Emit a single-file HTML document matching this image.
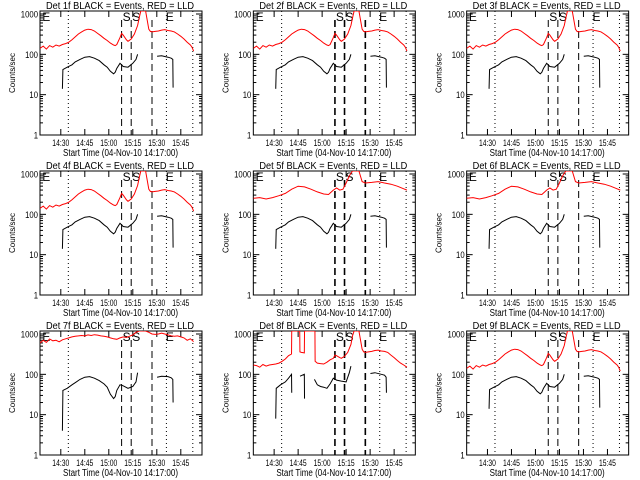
<!DOCTYPE html>
<html><head><meta charset="utf-8"><style>
body{margin:0;background:#fff}
svg{display:block}
text{font-family:"Liberation Sans",sans-serif;fill:#000}
</style></head><body>
<svg id="chart" width="640" height="480" viewBox="0 0 640 480" xmlns="http://www.w3.org/2000/svg"></svg>
<script>
// Time in minutes after 14:17:00
const detNames = ["1f","2f","3f","4f","5f","6f","7f","8f","9f"];
const xTickLabels = ["14:30","14:45","15:00","15:15","15:30","15:45"];
const xTickMinutes = [13,28,43,58,73,88];
const yTickLabels = ["1000","100","10","1"];
const yTickValues = [1000,100,10,1];
const dottedTimes = [17.7,79,95.5];
const dashedTimes = [51,57,70];

// Red (LLD) series
const redT_base = [0,2,4,6,8,10,12,14,16,18,20,22,24,26,28,30,32,34,36,38,40,42,44,46,47,48,50,51,52,54,55,57,59,61,62,63,64,66,68,69,70,72,74,76,78,80,82,84,86,88,90,92,94,95,96];
const redV_base = [140,160,135,165,150,170,160,175,185,200,230,270,320,360,400,420,410,380,330,290,250,220,190,170,165,175,260,330,300,230,210,240,320,520,800,1300,1300,1300,420,370,360,370,380,400,410,390,380,360,320,280,240,200,170,150,120];
const redT_hi = [0,2,4,6,8,10,12,14,16,18,20,22,24,26,28,30,32,34,36,38,40,42,44,46,48,50,52,54,56,58,60,62,64,66,68,70,72,74,76,78,80,82,84,86,88,90,92,94,96];
const redV_hi = [600,700,620,750,680,700,640,720,760,800,850,880,900,920,900,950,920,960,940,900,880,850,800,760,740,800,850,820,880,950,1100,1200,1200,1200,1100,1000,980,1000,1050,1000,950,900,880,900,850,800,700,760,650];
const redT_8 = [0,2,4,6,8,10,12,14,16,18,20,22,23.9,24,29,29.1,30,31.9,32,38.5,38.6,40,42,44,46,48,50,51,52,54,55,57,59,61,62,63,64,66,68,69,70,72,74,76,78,80,82,84,86,88,90,92,94,96];
const redV_8 = [170,165,150,175,160,170,175,180,190,210,240,290,320,1300,1300,360,350,340,1300,1300,210,190,185,180,200,230,250,300,290,260,250,280,350,550,900,1300,1300,1300,420,360,350,360,370,390,400,380,370,350,300,260,220,190,170,150];
const redT_5 = [0,4,8,12,16,20,24,28,32,36,40,44,47,50,52,54,56,58,60,62,64,66,68,70,74,78,82,86,90,94,96];
const redV_5 = [250,260,240,260,290,330,420,500,480,420,360,320,310,400,450,400,420,600,900,1300,1300,1300,650,600,620,650,600,560,500,430,400];

// Black (Events) series; null = gap
const blkT_base = [14,14.3,17,20,22,25,28,31,34,37,40,42,44,46,47,48,50,52,55,58,60,61,62,73,73.2,76,80,82,83,83.2];
const blkV_base = [14,42,48,55,65,75,85,88,80,70,55,48,38,33,36,45,60,50,48,60,75,100,null,null,90,92,85,80,75,15];
const blkT_7 = [14,14.3,17,20,22,25,28,31,34,37,40,42,44,46,47,48,50,52,55,58,60,61,62,73,73.2,76,80,82,83,83.2];
const blkV_7 = [4,40,45,55,62,75,85,88,80,70,58,48,32,25,28,40,55,52,45,50,65,110,null,null,85,90,88,82,75,20];
const blkT_8 = [14,14.3,17,20,22,23.9,24,29,29.2,31.9,32,38,38.2,40,42,44,46,48,50,52,55,58,60,61,62,73,73.2,76,80,82,83,83.2];
const blkV_8 = [8,45,55,65,80,100,35,null,90,100,25,null,75,55,50,48,45,58,80,72,68,65,110,160,null,null,105,110,100,95,85,35];

const panelRed = [[redT_base,redV_base],[redT_base,redV_base],[redT_base,redV_base],[redT_base,redV_base],[redT_5,redV_5],[redT_5,redV_5],[redT_hi,redV_hi],[redT_8,redV_8],[redT_base,redV_base]];
const panelBlk = [[blkT_base,blkV_base],[blkT_base,blkV_base],[blkT_base,blkV_base],[blkT_base,blkV_base],[blkT_base,blkV_base],[blkT_base,blkV_base],[blkT_7,blkV_7],[blkT_8,blkV_8],[blkT_base,blkV_base]];

const svg = document.getElementById('chart');
const NS = 'http://www.w3.org/2000/svg';
function mk(tag, attrs, parent){const e=document.createElementNS(NS,tag);for(const k in attrs)e.setAttribute(k,attrs[k]);parent.appendChild(e);return e;}
const BX0=40,BX1=202,BY0=11,BY1=135;
function xs(t){return BX0+t*1.6;}
function ys(v){return BY1-Math.log10(v)*40.33;}
function clampY(v){return Math.max(BY0,ys(v));}

for(let p=0;p<9;p++){
  const col=p%3,row=Math.floor(p/3);
  const g=mk('g',{transform:`translate(${(col*213.33).toFixed(2)},${row*160})`},svg);
  
  
  const clip=mk('clipPath',{id:'c'+p},g);mk('rect',{x:BX0,y:BY0,width:BX1-BX0,height:BY1-BY0},clip);
  const t=mk('text',{x:46,y:9,'font-size':10,textLength:148,lengthAdjust:'spacingAndGlyphs'},g);t.textContent='Det '+detNames[p]+' BLACK = Events, RED = LLD';
  
  
  const box=mk('rect',{x:BX0,y:BY0,width:BX1-BX0,height:BY1-BY0,fill:'none',stroke:'#000','stroke-width':1},g);
  
  
  yTickValues.forEach((v,i)=>{
    const y=ys(v);
    mk('line',{x1:BX0,x2:BX0+6,y1:y,y2:y,stroke:'#000'},g);
    mk('line',{x1:BX1,x2:BX1-6,y1:y,y2:y,stroke:'#000'},g);
    const w=yTickLabels[i].length*4.3;
    const l=mk('text',{x:BX0-2-w,y:y+3.5,'font-size':9,textLength:w,lengthAdjust:'spacingAndGlyphs'},g);l.textContent=yTickLabels[i];
    
    
    if(v<1000)for(let m=2;m<10;m++){const yy=ys(v*m);if(yy<BY0)continue;mk('line',{x1:BX0,x2:BX0+3,y1:yy,y2:yy,stroke:'#000'},g);mk('line',{x1:BX1,x2:BX1-3,y1:yy,y2:yy,stroke:'#000'},g);}
  });
  const yl=mk('text',{x:0,y:0,'font-size':8,'text-anchor':'middle',transform:'translate(15,73) rotate(-90)'},g);yl.textContent='Counts/sec';
  
  
  xTickMinutes.forEach((m,i)=>{
    const x=xs(m);
    mk('line',{x1:x,x2:x,y1:BY1,y2:BY1-6,stroke:'#000'},g);
    mk('line',{x1:x,x2:x,y1:BY0,y2:BY0+6,stroke:'#000'},g);
    const l=mk('text',{x:x-8.5,y:146,'font-size':9,textLength:17,lengthAdjust:'spacingAndGlyphs'},g);l.textContent=xTickLabels[i];
    
    
  });
  const xl=mk('text',{x:63,y:156,'font-size':10,textLength:115,lengthAdjust:'spacingAndGlyphs'},g);xl.textContent='Start Time (04-Nov-10 14:17:00)';
  
  
  dottedTimes.forEach(tm=>{const l=mk('line',{x1:xs(tm),x2:xs(tm),y1:BY0,y2:BY1,stroke:'#000','stroke-dasharray':'1,3'},g);
    
    });
  dashedTimes.forEach(tm=>{const l=mk('line',{x1:xs(tm),x2:xs(tm),y1:20,y2:BY1,stroke:'#000','stroke-dasharray':'7,4','stroke-width':(p%3===1?1.6:1)},g);
    
    });
  [['E',0.8],['S',51],['S',57],['E',78]].forEach(([s,tm])=>{const l=mk('text',{x:xs(tm)+1,y:21,'font-size':12},g);l.textContent=s;
    
    });
  function path(T,V,color,name){
    let d='',pen=false;
    for(let i=0;i<T.length;i++){
      if(V[i]===null){pen=false;continue;}
      d+=(pen?'L':'M')+xs(T[i]).toFixed(1)+','+clampY(V[i]).toFixed(1);pen=true;
    }
    const e=mk('path',{d:d,fill:'none',stroke:color,'stroke-width':1,'clip-path':`url(#c${p})`},g);
    
    
  }
  path(panelRed[p][0],panelRed[p][1],'#ff0000','lld-red-series');
  path(panelBlk[p][0],panelBlk[p][1],'#000','events-black-series');
}
</script>
</body></html>
